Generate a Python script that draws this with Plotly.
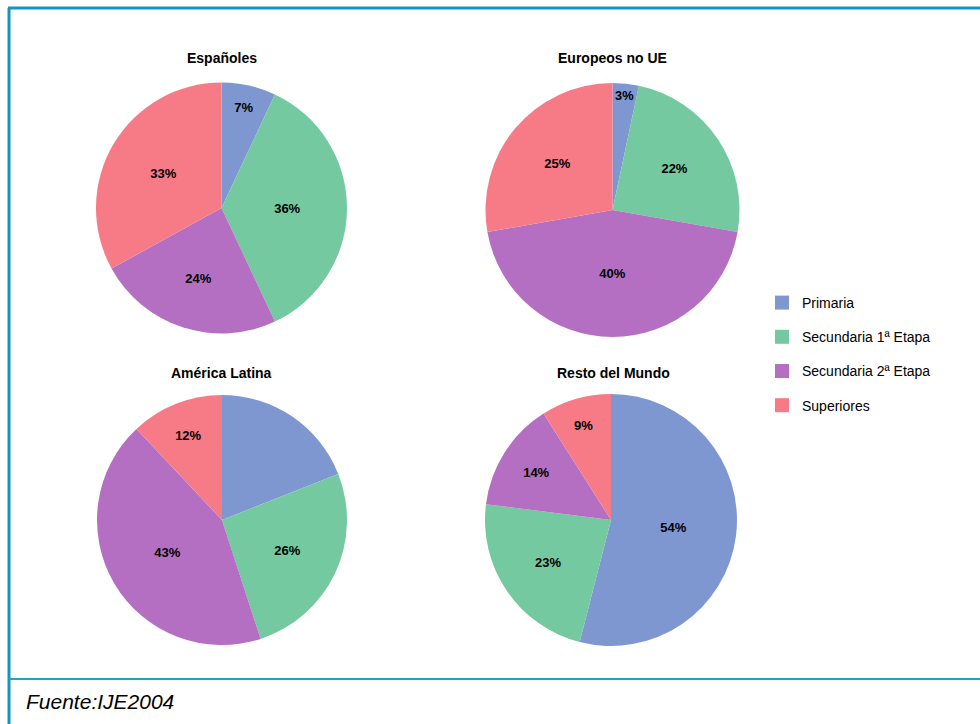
import plotly.graph_objects as go

categories = ["Primaria", "Secundaria 1ª Etapa", "Secundaria 2ª Etapa", "Superiores"]
colors = ["#7f97d0", "#74c9a0", "#b46fc3", "#f77b87"]

titles = ["Españoles", "Europeos no UE", "América Latina", "Resto del Mundo"]
espanoles = [7, 36, 24, 33]
europeos_no_ue = [3, 22, 40, 25]
america_latina = [19, 26, 43, 12]
resto_mundo = [54, 23, 14, 9]
series = [espanoles, europeos_no_ue, america_latina, resto_mundo]
# labels as printed in the original (Primaria in América Latina is unlabeled)
label_text = [
    ["7%", "36%", "24%", "33%"],
    ["3%", "22%", "40%", "25%"],
    ["", "26%", "43%", "12%"],
    ["54%", "23%", "14%", "9%"],
]

W, H = 980, 724
# pie centre (px) and radius (px)
geom = [(221.5, 208, 125.5), (612.5, 210, 127), (222, 520, 125), (611, 520, 126)]
title_pos = [(221.5, 58), (612, 58), (221.5, 373), (613, 373)]

FONT = "Liberation Sans, Arial, sans-serif"

fig = go.Figure()
for vals, txt, (cx, cy, r) in zip(series, label_text, geom):
    fig.add_trace(go.Pie(
        labels=categories, values=vals, text=txt, textinfo="text",
        textposition="inside", insidetextorientation="horizontal",
        sort=False, direction="clockwise", rotation=0,
        marker=dict(colors=colors, line=dict(width=0)),
        textfont=dict(family=FONT, size=13, color="black", weight="bold"),
        domain=dict(x=[(cx - r) / W, (cx + r) / W], y=[1 - (cy + r) / H, 1 - (cy - r) / H]),
        showlegend=False, hoverinfo="label+percent",
    ))

for cat, col in zip(categories, colors):
    fig.add_trace(go.Scatter(
        x=[None], y=[None], mode="markers", name=cat, legendgroup=cat,
        marker=dict(symbol="square", size=14, color=col),
    ))

annotations = []
for t, (tx, ty) in zip(titles, title_pos):
    annotations.append(dict(
        text="<b>" + t + "</b>", x=tx / W, y=1 - ty / H, xref="paper", yref="paper",
        showarrow=False, xanchor="center", yanchor="middle",
        font=dict(family=FONT, size=14, color="black"),
    ))
annotations.append(dict(
    text="<i>Fuente:IJE2004</i>", x=24 / W, y=1 - 701 / H, xref="paper", yref="paper",
    showarrow=False, xanchor="left", yanchor="middle",
    font=dict(family=FONT, size=21, color="black"),
))

shapes = [
    dict(type="line", xref="paper", yref="paper", x0=8 / W, x1=1, y0=1 - 8 / H, y1=1 - 8 / H,
         line=dict(color="#1296bd", width=3)),
    dict(type="line", xref="paper", yref="paper", x0=9 / W, x1=9 / W, y0=0, y1=1 - 8 / H,
         line=dict(color="#1296bd", width=3)),
    dict(type="line", xref="paper", yref="paper", x0=9 / W, x1=1, y0=1 - 679 / H, y1=1 - 679 / H,
         line=dict(color="#1fa3c9", width=2)),
]

fig.update_layout(
    width=W, height=H, margin=dict(l=0, r=0, t=0, b=0),
    paper_bgcolor="white", plot_bgcolor="white",
    xaxis=dict(visible=False), yaxis=dict(visible=False),
    annotations=annotations, shapes=shapes,
    legend=dict(x=762 / W, y=1 - 287 / H, xanchor="left", yanchor="top",
                traceorder="grouped", tracegroupgap=13,
                font=dict(family=FONT, size=14, color="black"),
                bgcolor="rgba(0,0,0,0)"),
)

fig.write_html("out.html")
